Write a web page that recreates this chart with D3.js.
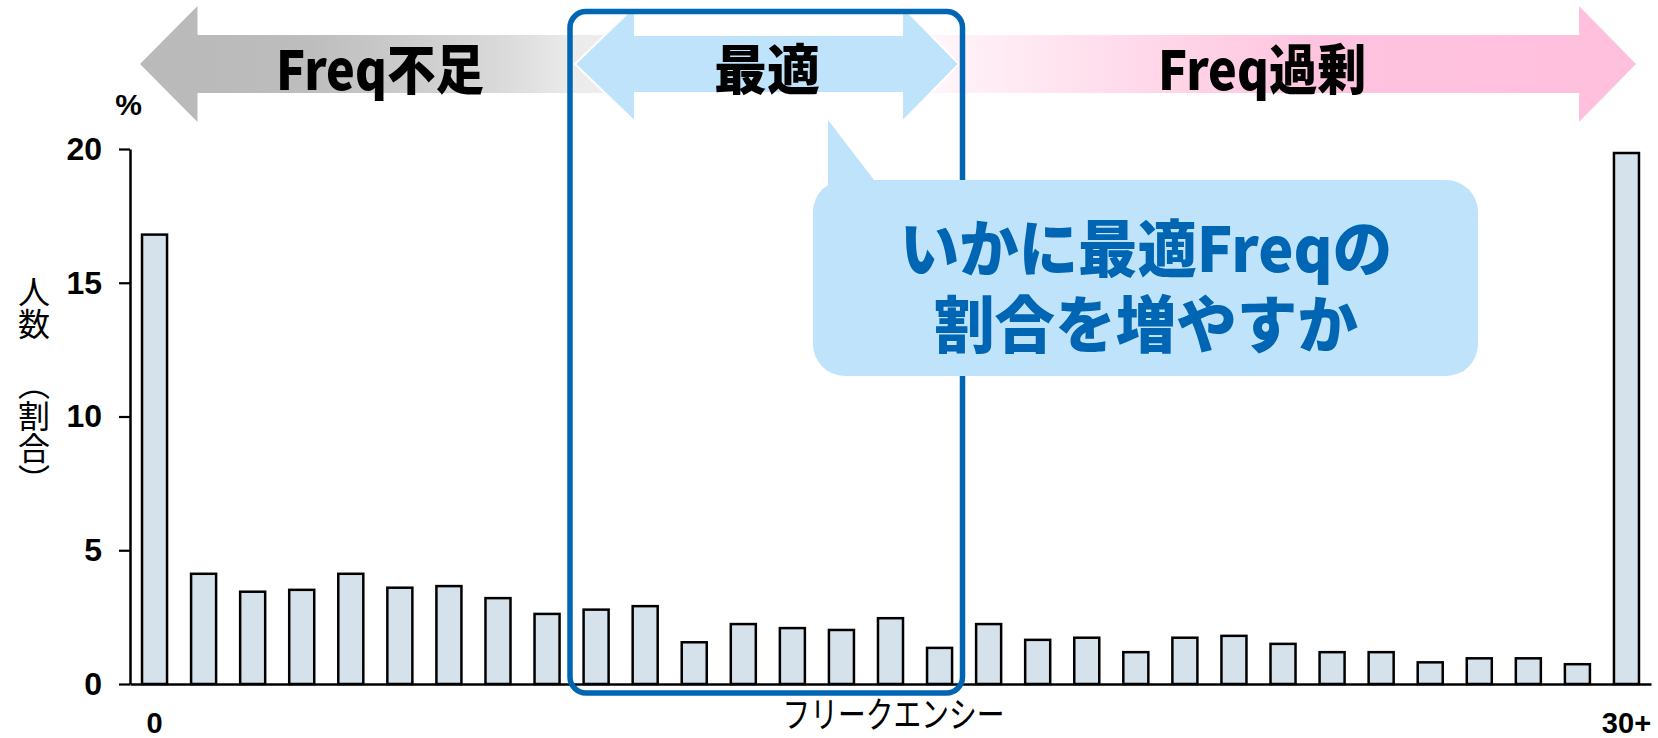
<!DOCTYPE html>
<html><head><meta charset="utf-8">
<script src="https://cdn.jsdelivr.net/npm/d3@7"></script>
<style>html,body{margin:0;padding:0;background:#fff;overflow:hidden}</style>
</head><body>
<svg id="chart" width="1658" height="738"></svg>
<script>
// ---- data ----
const categories = ["0","1","2","3","4","5","6","7","8","9","10","11","12","13","14","15","16","17","18","19","20","21","22","23","24","25","26","27","28","29","30+"];
const values = [16.8, 4.12, 3.45, 3.52, 4.12, 3.6, 3.66, 3.21, 2.62, 2.78, 2.91, 1.56, 2.24, 2.09, 2.02, 2.46, 1.35, 2.24, 1.65, 1.73, 1.19, 1.73, 1.8, 1.5, 1.19, 1.19, 0.81, 0.96, 0.96, 0.74, 19.85];
const yTicks = [0, 5, 10, 15, 20];
const xTickLabels = ["0", "30+"];
const yUnit = "%";
const yTitleA = "人数";
const yTitleB = "（割合）";
const xTitle = "フリークエンシー";
const arrowLabels = ["Freq不足", "最適", "Freq過剰"];
const calloutLines = ["いかに最適Freqの", "割合を増やすか"];

const LATIN = "'Liberation Sans', Arial, sans-serif";
const CJK = "'Noto Sans CJK JP', 'Noto Sans', sans-serif";
const BLUE = "#0066b3";
const LIGHTBLUE = "#bee3fb";

const svg = d3.select("#chart");
const defs = svg.append("defs");

const x = d3.scaleBand().domain(categories).range([130, 1651]).paddingInner(0.49).paddingOuter(0.245);
const y = d3.scaleLinear().domain([0, 20]).range([684, 149]);

// ---- gradients ----
const gGray = defs.append("linearGradient").attr("id", "gGray")
  .attr("gradientUnits", "userSpaceOnUse").attr("x1", 197).attr("x2", 640).attr("y1", 0).attr("y2", 0);
[[0, "#bababa"], [0.25, "#bdbdbd"], [0.68, "#d9d9d9"], [0.85, "#ebebeb"], [1, "#f0f0f0"]]
  .forEach(([o, c]) => gGray.append("stop").attr("offset", o).attr("stop-color", c));
const gPink = defs.append("linearGradient").attr("id", "gPink")
  .attr("gradientUnits", "userSpaceOnUse").attr("x1", 905).attr("x2", 1579).attr("y1", 0).attr("y2", 0);
[[0, "#ffffff"], [0.09, "#fff0f6"], [0.35, "#ffd9ea"], [0.62, "#ffc3df"], [1, "#ffc0dd"]]
  .forEach(([o, c]) => gPink.append("stop").attr("offset", o).attr("stop-color", c));

// ---- top arrows ----
const arrows = svg.append("g");
arrows.append("path").attr("fill", "url(#gGray)")
  .attr("d", "M140,64 L197.5,6 L197.5,35 L640,35 L640,93 L197.5,93 L197.5,122 Z");
arrows.append("path").attr("fill", "url(#gPink)")
  .attr("d", "M905,35 L1579,35 L1579,6 L1636,64 L1579,122 L1579,93 L905,93 Z");
arrows.append("path").attr("fill", LIGHTBLUE).attr("stroke", "#fff").attr("stroke-width", 2)
  .attr("d", "M575,64 L635,6 L635,35 L902,35 L902,6 L959,64 L902,122 L902,93 L635,93 L635,122 Z");

const arrowText = [
  {t: arrowLabels[0], cx: 380, len: 208},
  {t: arrowLabels[1], cx: 767, len: 106},
  {t: arrowLabels[2], cx: 1262, len: 208}
];
arrows.selectAll("text.al").data(arrowText).join("text")
  .attr("class", "al")
  .attr("x", d => d.cx).attr("y", 66)
  .attr("text-anchor", "middle").attr("dominant-baseline", "central")
  .attr("font-family", CJK).attr("font-weight", 900).attr("font-size", 54)
  .attr("fill", "#000")
  .attr("textLength", d => d.len).attr("lengthAdjust", "spacingAndGlyphs")
  .text(d => d.t);

// ---- bars ----
svg.append("g").selectAll("rect").data(values).join("rect")
  .attr("x", (d, i) => x(categories[i]))
  .attr("y", d => y(d))
  .attr("width", x.bandwidth())
  .attr("height", d => y(0) - y(d))
  .attr("fill", "#d6e2eb")
  .attr("stroke", "#000")
  .attr("stroke-width", 2.5);

// ---- axes ----
const yAxisG = svg.append("g").attr("transform", `translate(${x.range()[0]},0)`)
  .call(d3.axisLeft(y).tickValues(yTicks).tickSize(11).tickPadding(17).tickSizeOuter(0));
yAxisG.select(".domain").attr("stroke", "#000").attr("stroke-width", 2.5);
yAxisG.selectAll(".tick line").attr("stroke", "#000").attr("stroke-width", 2.2);
yAxisG.selectAll(".tick text").attr("font-family", LATIN).attr("font-weight", "bold")
  .attr("font-size", 32).attr("fill", "#000");

const xAxisG = svg.append("g").attr("transform", `translate(0,${y(0)})`)
  .call(d3.axisBottom(x).tickValues(xTickLabels).tickSize(0).tickSizeOuter(0));
xAxisG.select(".domain").attr("stroke", "#000").attr("stroke-width", 2.5);
xAxisG.selectAll(".tick text").attr("font-family", LATIN).attr("font-weight", "bold")
  .attr("font-size", 29).attr("fill", "#000").attr("y", 49).attr("dy", null);

// unit
svg.append("text").attr("x", 128.5).attr("y", 115).attr("text-anchor", "middle")
  .attr("font-family", LATIN).attr("font-weight", "bold").attr("font-size", 30).text(yUnit);

// x title
svg.append("text").attr("x", 893.5).attr("y", 712)
  .attr("text-anchor", "middle").attr("dominant-baseline", "central")
  .attr("font-family", CJK).attr("font-size", 36)
  .attr("textLength", 222).attr("lengthAdjust", "spacingAndGlyphs")
  .text(xTitle);

// y title (vertical)
[[yTitleA, 276], [yTitleB, 368]].forEach(([t, y0]) => {
  svg.append("text").attr("x", 34).attr("y", y0)
    .style("writing-mode", "vertical-rl").style("text-orientation", "mixed")
    .attr("font-family", CJK).attr("font-size", 32).attr("fill", "#000")
    .text(t);
});

// ---- frame ----
svg.append("rect").attr("x", 570).attr("y", 11.5).attr("width", 392.5).attr("height", 681.5)
  .attr("rx", 16).attr("ry", 16)
  .attr("fill", "none").attr("stroke", BLUE).attr("stroke-width", 5.5);

// ---- callout ----
const co = svg.append("g");
co.append("path").attr("fill", LIGHTBLUE).attr("d", "M828,120 L881.7,190 L828,190 Z");
co.append("rect").attr("x", 813).attr("y", 180).attr("width", 665).attr("height", 196)
  .attr("rx", 32).attr("ry", 32).attr("fill", LIGHTBLUE);
co.selectAll("text").data(calloutLines).join("text")
  .attr("x", 1146).attr("y", (d, i) => i === 0 ? 245 : 321)
  .attr("text-anchor", "middle").attr("dominant-baseline", "central")
  .attr("font-family", CJK).attr("font-weight", 900).attr("font-size", 62)
  .attr("fill", BLUE)
  .attr("textLength", (d, i) => i === 0 ? 492 : 424)
  .attr("lengthAdjust", "spacingAndGlyphs")
  .text(d => d);
</script>
</body></html>
